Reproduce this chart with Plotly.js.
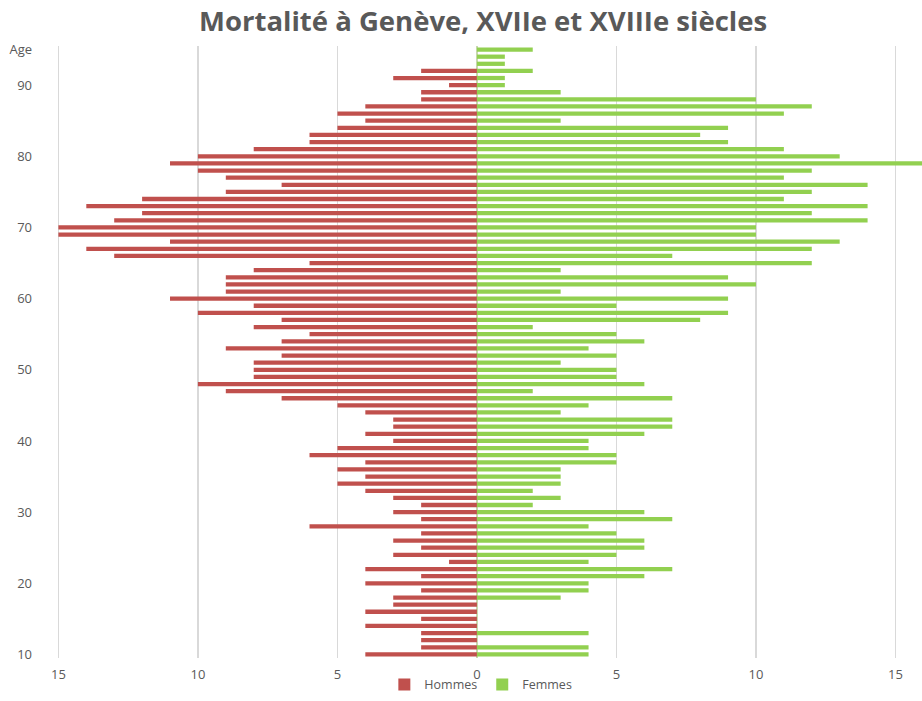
<!DOCTYPE html>
<html>
<head>
<meta charset="utf-8">
<script src="https://cdn.plot.ly/plotly-3.0.1.min.js"></script>
<style>html,body{margin:0;padding:0;background:#fff;}#chart{width:922px;height:701px;}</style>
</head>
<body>
<div id="chart"></div>
<script>
// Ages 10..95
const ages = [];
for (let a = 10; a <= 95; a++) ages.push(a);

const hommes = [4,2,2,2,4,2,4,3,3,2, 4,2,4,1,3,2,3,2,6,2, 3,2,3,4,5,4,5,4,6,5,
                3,4,3,3,4,5,7,9,10,8, 8,8,7,9,7,6,8,7,10,8, 11,9,9,9,8,6,13,14,11,15,
                15,13,12,14,12,9,7,9,10,11, 10,8,6,6,5,4,5,4,2,2, 1,3,2,0,0,0];
const femmes = [4,4,0,4,0,0,0,0,3,4, 4,6,7,4,5,6,6,5,4,7, 6,2,3,2,3,3,3,5,5,4,
                4,6,7,7,3,4,7,2,6,5, 5,3,5,4,6,5,2,8,9,5, 9,3,10,9,3,12,7,12,13,10,
                10,14,12,14,11,12,14,11,12,16, 13,11,9,8,9,3,11,12,10,3, 1,1,2,1,1,2];

const yTickVals = [10,20,30,40,50,60,70,80,90,95];
const yTickText = ['10','20','30','40','50','60','70','80','90','Age'];
const xTickVals = [-15,-10,-5,0,5,10,15];
const xTickText = ['15','10','5','0','5','10','15'];

const traces = [
  {
    type: 'bar', orientation: 'h', name: 'Hommes',
    y: ages, x: hommes.map(v => -v),
    marker: {color: '#C0504D', line: {width: 0}},
    width: 0.6
  },
  {
    type: 'bar', orientation: 'h', name: 'Femmes',
    y: ages, x: femmes,
    marker: {color: '#92D050', line: {width: 0}},
    width: 0.6
  }
];

const layout = {
  width: 922, height: 701,
  paper_bgcolor: '#ffffff', plot_bgcolor: '#ffffff',
  margin: {l: 57, r: 0, t: 46, b: 43, autoexpand: false},
  barmode: 'overlay',
  title: {
    text: '<b>Mortalité à Genève, XVIIe et XVIIIe siècles</b>',
    font: {family: 'Open Sans, sans-serif', size: 27.5, color: '#595959'},
    x: 0.524, xanchor: 'center', xref: 'container',
    y: 0.97, yanchor: 'middle', yref: 'container'
  },
  xaxis: {
    range: [-15.05, 15.95],
    tickvals: xTickVals, ticktext: xTickText,
    showgrid: true, gridcolor: '#D9D9D9', gridwidth: 1.3,
    zeroline: true, zerolinecolor: '#C8D8B0', zerolinewidth: 1.5,
    showline: false, ticks: '',
    tickfont: {family: 'Open Sans, sans-serif', size: 13, color: '#595959'},
    ticklabelstandoff: 7,
    fixedrange: true
  },
  yaxis: {
    range: [9.5, 95.5],
    tickvals: yTickVals, ticktext: yTickText,
    showgrid: false, zeroline: false, showline: false, ticks: '',
    tickfont: {family: 'Open Sans, sans-serif', size: 13, color: '#595959'},
    ticklabelstandoff: 24,
    fixedrange: true
  },
  showlegend: true,
  legend: {
    orientation: 'h', x: 0.49, xanchor: 'center', y: -0.0686, yanchor: 'bottom',
    bgcolor: 'rgba(0,0,0,0)',
    font: {family: 'Open Sans, sans-serif', size: 12.5, color: '#595959'},
    traceorder: 'normal', itemwidth: 30
  }
};

Plotly.newPlot('chart', traces, layout, {displayModeBar: false, staticPlot: true});
</script>
</body>
</html>
